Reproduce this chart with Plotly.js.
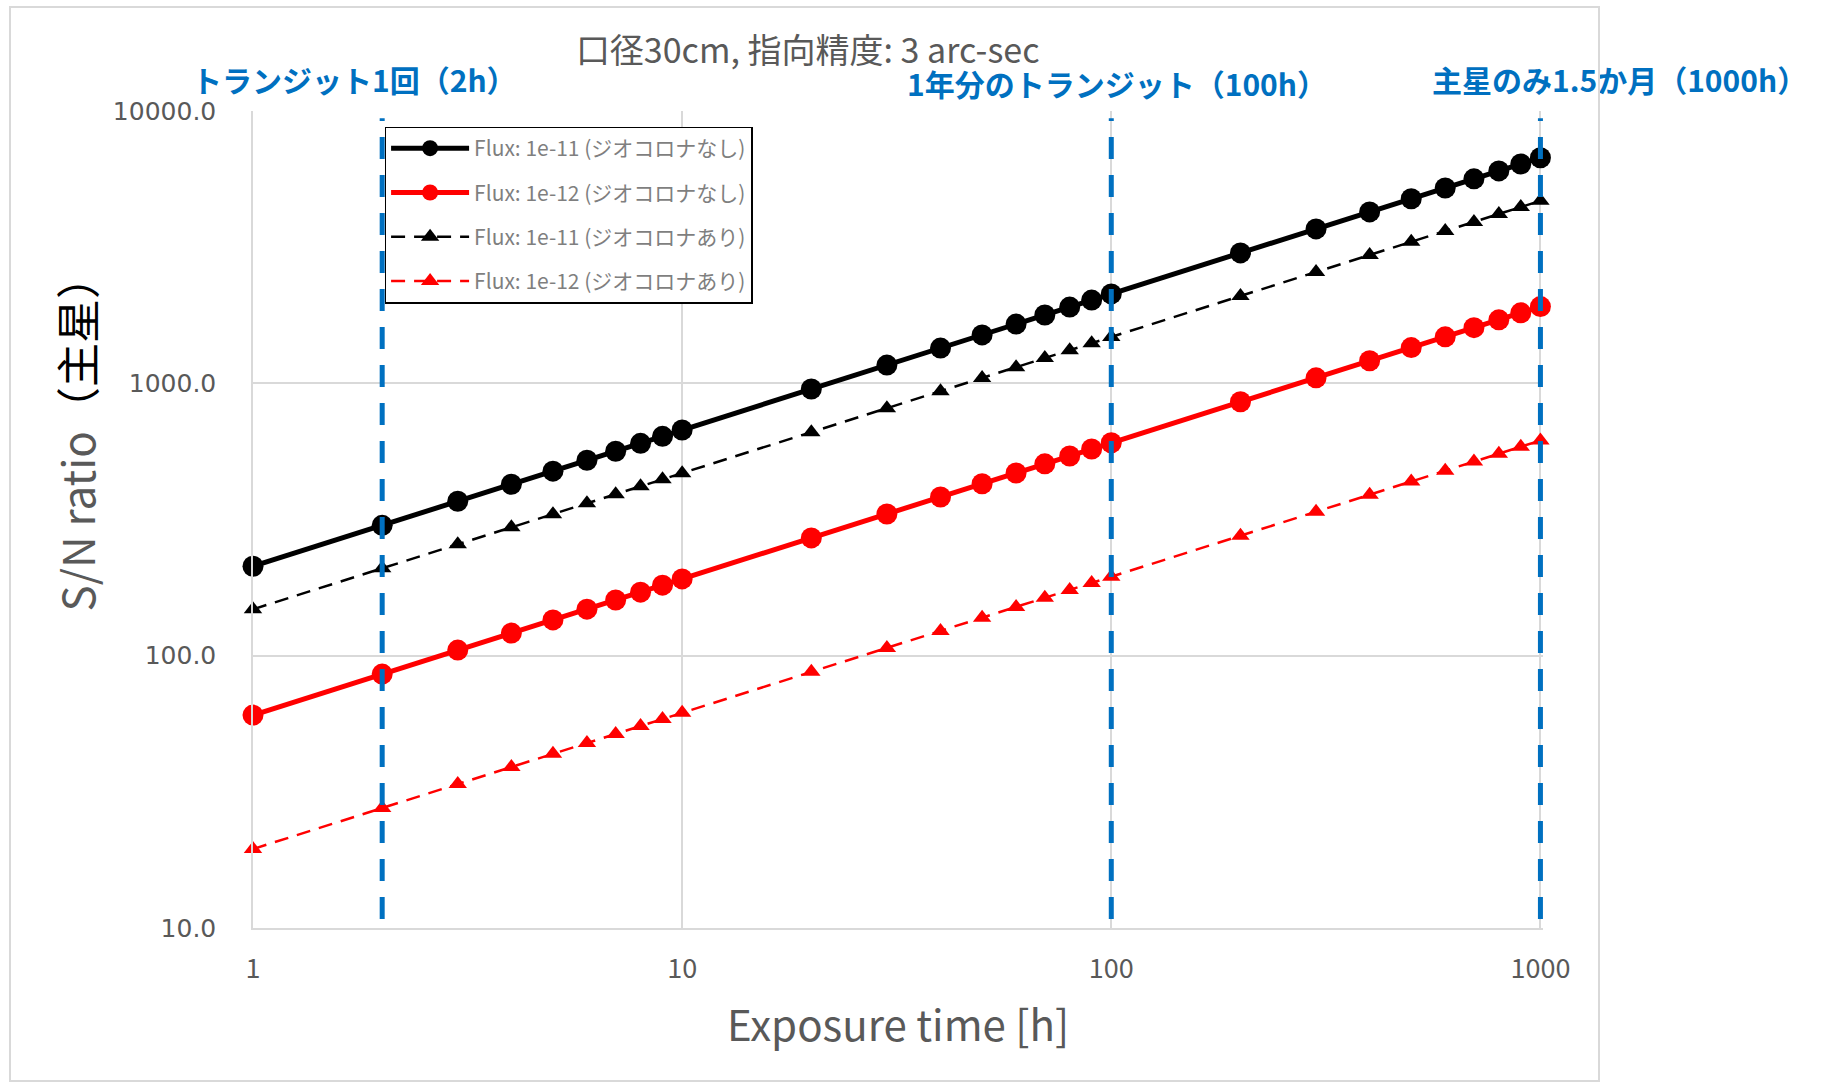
<!DOCTYPE html>
<html>
<head>
<meta charset="utf-8">
<script src="https://cdn.plot.ly/plotly-3.0.1.min.js"></script>
<style>
  html, body { margin: 0; padding: 0; background: #ffffff; }
  #wrap { position: relative; width: 1835px; height: 1085px; }
  #chart { width: 1835px; height: 1085px; }
  #frame { position: absolute; left: 9px; top: 6px; width: 1591px; height: 1076px;
           border: 2px solid #d9d9d9; pointer-events: none; box-sizing: border-box; }
</style>
</head>
<body>
<div id="wrap">
  <div id="chart"></div>
  <div id="frame"></div>
</div>
<script>
// Exposure time [h]
const exposureHours = [1, 2, 3, 4, 5, 6, 7, 8, 9, 10,
                       20, 30, 40, 50, 60, 70, 80, 90, 100,
                       200, 300, 400, 500, 600, 700, 800, 900, 1000];

// S/N ratio
const snFlux11NoGeo = [213, 301, 369, 426, 476, 522, 563, 602, 639, 674,
                       953, 1167, 1347, 1506, 1650, 1782, 1905, 2021, 2130,
                       3012, 3689, 4260, 4763, 5217, 5636, 6025, 6390, 6736];
const snFlux12NoGeo = [60.5, 85.6, 104.8, 121, 135.3, 148.2, 160.1, 171.1, 181.5, 191.3,
                       270.6, 331.4, 382.6, 427.8, 468.6, 506.2, 541.1, 574, 605,
                       855.6, 1047.9, 1210, 1352.8, 1481.9, 1600.7, 1711.2, 1815, 1913];
const snFlux11Geo   = [148, 209.3, 256.3, 296, 330.9, 362.5, 391.6, 418.6, 444, 468,
                       661.9, 810.6, 936, 1046.5, 1146.4, 1238.2, 1323.7, 1404, 1480,
                       2093, 2563, 2960, 3309, 3625, 3916, 4186, 4440, 4680];
const snFlux12Geo   = [19.5, 27.6, 33.8, 39, 43.6, 47.8, 51.6, 55.2, 58.5, 61.7,
                       87.2, 106.8, 123.3, 137.9, 151, 163.1, 174.4, 185, 195,
                       275.8, 337.7, 390, 436, 477.6, 515.9, 551.5, 585, 616.6];

const seriesNames = [
  "Flux: 1e-11 (ジオコロナなし)",
  "Flux: 1e-12 (ジオコロナなし)",
  "Flux: 1e-11 (ジオコロナあり)",
  "Flux: 1e-12 (ジオコロナあり)"
];

// Marked exposure times and their labels
const markerTimes = [2, 100, 1000];
const markerLabels = ["トランジット1回（2h）", "1年分のトランジット（100h）", "主星のみ1.5か月（1000h）"];

const xTickVals = [1, 10, 100, 1000];
const xTickText = ["1", "10", "100", "1000"];
const yTickVals = [10, 100, 1000, 10000];
const yTickText = ["10.0", "100.0", "1000.0", "10000.0"];

const titleText = "口径30cm, 指向精度: 3 arc-sec";
const xTitleText = "Exposure time [h]";

const sans = '"Noto Sans CJK JP", "Noto Sans", sans-serif';

const traces = [
  { x: exposureHours, y: snFlux11NoGeo, name: seriesNames[0], legendgroup: "g1", mode: "lines+markers", cliponaxis: false,
    line: { color: "#000000", width: 5 }, marker: { symbol: "circle", size: 21, color: "#000000" } },
  { x: exposureHours, y: snFlux12NoGeo, name: seriesNames[1], legendgroup: "g2", mode: "lines+markers", cliponaxis: false,
    line: { color: "#ff0000", width: 5 }, marker: { symbol: "circle", size: 21, color: "#ff0000" } },
  { x: exposureHours, y: snFlux11Geo, name: seriesNames[2], legendgroup: "g3", mode: "lines+markers", cliponaxis: false,
    line: { color: "#000000", width: 2.5, dash: "14px,9px" }, marker: { symbol: "triangle-up", size: 16, color: "#000000" } },
  { x: exposureHours, y: snFlux12Geo, name: seriesNames[3], legendgroup: "g4", mode: "lines+markers", cliponaxis: false,
    line: { color: "#ff0000", width: 2.5, dash: "14px,9px" }, marker: { symbol: "triangle-up", size: 16, color: "#ff0000" } }
];

const shapes = markerTimes.map(t => ({
  type: "line", xref: "x", yref: "paper", x0: t, x1: t, y0: 0.011, y1: 0.991,
  line: { color: "#0070c0", width: 5, dash: "22px,16px" }, layer: "above"
}));

const labelPos = [
  { x: 0.079, y: 1.039 },
  { x: 0.670, y: 1.034 },
  { x: 1.059, y: 1.039 }
];
const annotations = markerLabels.map((txt, i) => ({
  text: "<b>" + txt + "</b>", xref: "paper", yref: "paper",
  x: labelPos[i].x, y: labelPos[i].y, xanchor: "center", yanchor: "middle",
  showarrow: false, borderpad: 0, font: { family: sans, size: 30, color: "#0070c0" }
}));

annotations.push({
  text: '<span style="color:#595959">S/N ratio</span><span style="color:#000000">（主星）</span>',
  xref: "paper", yref: "paper", x: -0.1375, y: 0.606, xanchor: "center", yanchor: "middle",
  textangle: -90, showarrow: false, font: { family: sans, size: 44, color: "#595959" }
});

// x range extended by a hair so the line at 1000 h is not clipped; margins keep 1..1000 at the same pixels
const layout = {
  width: 1835, height: 1085,
  margin: { l: 253, r: 292, t: 111, b: 157 },
  paper_bgcolor: "rgba(0,0,0,0)", plot_bgcolor: "#ffffff",
  showlegend: true,
  title: { text: titleText, xref: "paper", x: 0.43, xanchor: "center",
           yref: "container", y: 0.953, yanchor: "middle",
           font: { family: sans, size: 34, color: "#595959" } },
  legend: {
    x: 0.102, y: 0.981, xanchor: "left", yanchor: "top",
    bgcolor: "#ffffff", bordercolor: "#000000", borderwidth: 1.5,
    font: { family: sans, size: 21, color: "#7f7f7f" },
    tracegroupgap: 14, itemwidth: 78
  },
  xaxis: {
    type: "log", range: [0, 3.006], tickvals: xTickVals, ticktext: xTickText,
    showgrid: true, gridcolor: "#d9d9d9", gridwidth: 1.5,
    showline: true, linecolor: "#d9d9d9", linewidth: 1.5, mirror: false,
    ticks: "", ticklabelstandoff: 16,
    tickfont: { family: sans, size: 27, color: "#595959" },
    title: { text: xTitleText, standoff: 26, font: { family: sans, size: 42, color: "#595959" } },
    zeroline: false
  },
  yaxis: {
    type: "log", range: [1, 4], tickvals: yTickVals, ticktext: yTickText,
    showgrid: true, gridcolor: "#d9d9d9", gridwidth: 1.5,
    showline: true, linecolor: "#d9d9d9", linewidth: 1.5,
    ticks: "", ticklabelstandoff: 30,
    tickfont: { family: '"DejaVu Sans", sans-serif', size: 25, color: "#595959" },
    zeroline: false
  },
  shapes: shapes,
  annotations: annotations
};

Plotly.newPlot("chart", traces, layout, { displayModeBar: false, responsive: false });
</script>
</body>
</html>
